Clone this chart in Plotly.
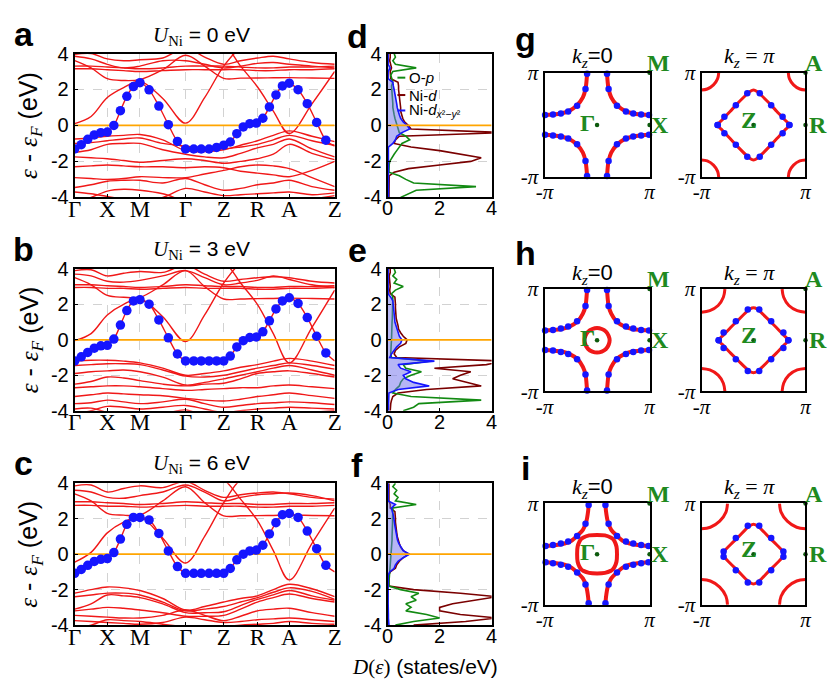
import plotly.graph_objects as go

W, H = 838, 696
SANS = "Arial, Liberation Sans, sans-serif"
SERIF = "Times New Roman, Liberation Serif, serif"

# ---------------- band structure data ----------------
K_PATH = [0, 16.7, 33.3, 50, 66.7, 90, 113.3, 132.8, 152.3, 169.5, 186.7, 203, 219.3, 242.5, 265.7]
K_TICKS = [0, 33.3, 66.7, 113.3, 152.3, 186.7, 219.3, 265.7]
K_LABELS = ['Γ', 'X', 'M', 'Γ', 'Z', 'R', 'A', 'Z']

DOT_K = [0, 6.7, 13.3, 20, 26.7, 33.3, 40, 46.7, 53.3, 60, 66.7, 76, 86, 95.7, 105, 113.3,
         121.7, 129.3, 137.3, 145, 152.3, 159, 165.7, 172.3, 179, 185.7, 192.3, 199, 205.7,
         212.3, 219.3, 228.3, 237.7, 247.3, 256.7]
DOTS_U0 = [-1.31, -1.07, -0.77, -0.53, -0.40, -0.37, 0.0, 0.82, 1.62, 2.16, 2.38, 1.98, 1.08, 0.04,
           -0.89, -1.31, -1.31, -1.31, -1.31, -1.22, -1.10, -0.92, -0.46, -0.08, 0.10, 0.13, 0.40,
           1.03, 1.70, 2.20, 2.35, 1.99, 1.21, 0.17, -0.82]
DOTS_U3 = [-1.19, -0.96, -0.71, -0.47, -0.34, -0.31, 0.04, 0.83, 1.65, 2.19, 2.26, 2.01, 1.12, 0.11,
           -0.80, -1.19, -1.19, -1.19, -1.19, -1.19, -1.19, -0.92, -0.40, -0.05, 0.13, 0.16, 0.45,
           1.07, 1.74, 2.19, 2.37, 2.05, 1.25, 0.20, -0.74]
DOTS_U6 = [-1.08, -0.86, -0.63, -0.41, -0.29, -0.25, 0.09, 0.85, 1.68, 2.07, 2.07, 1.93, 1.17, 0.18,
           -0.70, -1.08, -1.08, -1.08, -1.08, -1.08, -1.08, -0.81, -0.32, 0.0, 0.18, 0.23, 0.50,
           1.14, 1.77, 2.22, 2.29, 2.07, 1.30, 0.31, -0.63]
DX_END = [-1.15, -1.19, -1.0]

BANDS_U0 = [
    [0.1, 0.5, 1.55, 2.1, 2.45, 1.5, 0.13, 1.55, 3.3, 4.3, 4.6, 4.6, 4.6, 4.6, 4.6],
    [3.6, 3.2, 2.6, 2.5, 2.55, 3.1, 3.9, 3.3, 2.62, 2.63, 2.64, 2.65, 2.66, 2.64, 2.62],
    [3.85, 3.7, 3.4, 3.2, 3.3, 3.6, 3.6, 3.4, 3.2, 3.3, 3.45, 3.5, 3.4, 3.3, 3.2],
    [3.3, 3.3, 3.25, 3.2, 3.15, 3.2, 3.3, 3.3, 3.3, 3.25, 3.2, 3.2, 3.25, 3.25, 3.3],
    [3.15, 3.15, 3.1, 3.05, 3.0, 3.05, 3.1, 3.1, 3.1, 3.1, 3.05, 3.05, 3.1, 3.1, 3.15],
    [3.95, 4.0, 3.7, 3.6, 3.65, 3.75, 4.3, 3.8, 3.4, 3.6, 3.75, 3.85, 3.7, 3.5, 3.4],
    [4.6, 4.6, 4.6, 4.6, 4.6, 4.6, 4.6, 4.6, 4.5, 3.3, 2.15, 0.8, -0.45, 1.2, 3.0],
    [-0.75, -0.7, -0.6, -0.55, -0.5, -0.8, -1.4, -1.45, -1.35, -1.1, -0.85, -0.55, -0.3, -0.6, -0.9],
    [-1.0, -0.95, -0.85, -0.75, -0.7, -1.0, -1.15, -1.25, -1.3, -1.2, -1.05, -0.8, -0.55, -0.85, -1.1],
    [-1.5, -1.35, -1.05, -1.0, -1.0, -1.35, -1.6, -1.75, -1.8, -1.55, -1.25, -1.05, -0.75, -1.3, -1.75],
    [-1.75, -1.8, -1.85, -1.95, -2.05, -1.95, -1.85, -1.95, -2.1, -2.0, -1.85, -1.6, -1.05, -1.55, -1.9],
    [-2.3, -2.25, -2.2, -2.25, -2.3, -2.3, -2.35, -2.3, -2.35, -2.55, -2.65, -2.75, -2.85, -2.5, -2.0],
    [-2.9, -2.95, -3.0, -2.95, -2.85, -2.9, -2.9, -2.7, -2.5, -2.3, -2.2, -2.25, -2.4, -2.9, -3.4],
    [-3.45, -3.3, -3.1, -3.05, -3.05, -3.2, -2.95, -3.3, -3.6, -3.5, -3.3, -3.2, -3.05, -3.4, -3.6],
    [-3.7, -3.8, -3.95, -4.1, -4.2, -4.0, -3.5, -3.7, -3.9, -3.85, -3.8, -3.75, -3.7, -3.85, -3.75],
    [-4.2, -4.0, -3.65, -3.55, -3.6, -3.8, -4.2, -4.3, -4.4, -4.3, -4.2, -4.1, -4.3, -4.1, -3.9],
]
BANDS_U3 = [
    [-0.05, 0.35, 1.4, 2.0, 2.3, 1.3, -0.1, 1.4, 3.2, 4.3, 4.6, 4.6, 4.6, 4.6, 4.6],
    [3.5, 3.1, 2.5, 2.4, 2.4, 3.1, 3.9, 3.0, 2.3, 2.3, 2.32, 2.33, 2.35, 2.33, 2.3],
    [3.7, 3.6, 3.3, 3.25, 3.35, 3.6, 3.9, 3.5, 3.1, 3.2, 3.35, 3.6, 3.4, 3.1, 2.95],
    [3.1, 3.1, 3.05, 3.0, 2.95, 3.0, 3.1, 3.05, 3.0, 3.0, 2.95, 2.95, 3.0, 3.0, 3.05],
    [2.95, 2.95, 2.9, 2.9, 2.85, 2.9, 2.95, 2.9, 2.9, 2.9, 2.85, 2.85, 2.9, 2.9, 2.95],
    [3.9, 3.95, 3.6, 3.75, 3.85, 3.8, 4.2, 3.7, 3.3, 3.4, 3.5, 3.55, 3.5, 3.3, 3.2],
    [4.6, 4.6, 4.6, 4.6, 4.6, 4.6, 4.6, 4.6, 4.4, 3.2, 2.0, 0.35, -1.3, 0.7, 2.8],
    [-1.2, -1.15, -1.15, -1.2, -1.3, -1.6, -2.0, -1.9, -1.75, -1.55, -1.4, -1.2, -1.05, -1.2, -1.45],
    [-1.45, -1.4, -1.35, -1.35, -1.4, -1.7, -2.05, -2.1, -2.0, -1.8, -1.6, -1.45, -1.3, -1.45, -1.65],
    [-1.9, -1.8, -1.75, -1.7, -1.8, -2.1, -2.55, -2.4, -2.2, -2.0, -1.8, -1.6, -1.45, -1.7, -2.0],
    [-2.5, -2.35, -2.1, -2.15, -2.3, -2.5, -2.6, -2.5, -2.45, -2.2, -1.9, -1.8, -1.75, -1.9, -2.1],
    [-2.7, -2.65, -2.6, -2.6, -2.65, -2.75, -2.85, -2.8, -2.75, -2.7, -2.7, -2.6, -2.55, -2.65, -2.75],
    [-3.2, -3.1, -3.0, -3.05, -3.1, -3.15, -3.3, -3.4, -3.45, -3.35, -3.2, -3.1, -3.0, -3.15, -3.3],
    [-3.6, -3.55, -3.4, -3.5, -3.6, -3.5, -3.35, -3.6, -3.8, -3.7, -3.6, -3.55, -3.5, -3.55, -3.65],
    [-4.2, -4.0, -3.75, -3.8, -3.9, -3.8, -3.7, -3.9, -4.1, -4.0, -3.9, -3.85, -3.8, -3.85, -3.9],
    [-3.9, -3.85, -4.1, -4.3, -4.4, -4.2, -3.95, -4.3, -4.4, -4.3, -4.2, -4.2, -4.3, -4.1, -4.0],
]
BANDS_U6 = [
    [-0.45, 0.1, 1.2, 1.8, 2.1, 0.9, -0.5, 1.0, 2.9, 4.2, 4.6, 4.6, 4.6, 4.6, 4.6],
    [3.4, 3.0, 2.3, 2.2, 2.2, 3.0, 3.8, 2.9, 2.16, 2.16, 2.17, 2.18, 2.2, 2.18, 2.16],
    [3.6, 3.5, 3.2, 3.15, 3.3, 3.5, 3.9, 3.5, 3.0, 3.2, 3.35, 3.4, 3.45, 3.3, 3.0],
    [2.95, 2.95, 2.9, 2.85, 2.8, 2.85, 2.95, 2.9, 2.85, 2.85, 2.8, 2.8, 2.85, 2.85, 2.9],
    [2.75, 2.75, 2.7, 2.7, 2.65, 2.7, 2.75, 2.7, 2.7, 2.7, 2.65, 2.65, 2.7, 2.7, 2.75],
    [3.85, 3.9, 3.5, 3.7, 3.85, 3.75, 4.1, 3.6, 3.2, 3.35, 3.45, 3.5, 3.4, 3.2, 3.1],
    [4.6, 4.6, 4.6, 4.6, 4.6, 4.6, 4.6, 4.6, 4.2, 3.1, 1.9, 0.2, -1.45, 0.6, 2.6],
    [-2.2, -2.0, -1.85, -1.9, -2.05, -2.5, -3.15, -2.95, -2.7, -2.5, -2.35, -2.0, -1.7, -1.95, -2.4],
    [-2.4, -2.3, -2.2, -2.2, -2.3, -2.7, -3.2, -3.1, -2.95, -2.7, -2.45, -2.15, -1.9, -2.1, -2.55],
    [-3.1, -2.8, -2.3, -2.35, -2.45, -2.8, -3.3, -3.3, -3.25, -2.9, -2.55, -2.3, -2.05, -2.35, -2.6],
    [-3.2, -3.1, -3.0, -3.05, -3.15, -3.3, -3.5, -3.5, -3.45, -3.1, -2.7, -2.45, -2.25, -2.5, -2.7],
    [-3.45, -3.5, -3.55, -3.6, -3.6, -3.45, -3.15, -3.45, -3.75, -3.5, -3.2, -3.1, -3.05, -3.3, -3.5],
    [-3.75, -3.8, -3.85, -3.9, -3.95, -3.85, -3.55, -3.7, -3.85, -3.8, -3.7, -3.65, -3.6, -3.7, -3.8],
    [-4.2, -4.0, -3.7, -3.75, -3.8, -3.95, -4.1, -4.2, -4.1, -4.0, -3.95, -3.9, -3.8, -3.9, -3.95],
]

# ---------------- DOS data (E from -4 to 4, step 0.2) ----------------
E_DOS = [-4.0, -3.8, -3.6, -3.4, -3.2, -3.0, -2.8, -2.6, -2.4, -2.2, -2.0, -1.8, -1.6, -1.4, -1.2,
         -1.0, -0.8, -0.6, -0.4, -0.2, 0.0, 0.2, 0.4, 0.6, 0.8, 1.0, 1.2, 1.4, 1.6, 1.8, 2.0, 2.2,
         2.4, 2.6, 2.8, 3.0, 3.2, 3.4, 3.6, 3.8, 4.0]
OP_U0 = [0.5, 0.8, 1.1, 3.4, 1.0, 0.7, 0.45, 0.05, 0.05, 0.06, 0.08, 0.15, 0.25, 0.35, 0.45, 0.55,
         0.85, 0.7, 0.45, 0.4, 0.38, 0.3, 0.28, 0.25, 0.22, 0.2, 0.2, 0.18, 0.18, 0.17, 0.16, 0.15,
         0.2, 0.15, 0.12, 0.2, 1.1, 0.3, 0.2, 0.3, 0.25]
NID_U0 = [0.05, 0.05, 0.05, 0.05, 0.05, 0.05, 0.06, 0.25, 0.8, 2.0, 3.2, 3.6, 2.8, 2.0, 0.9, 0.25,
          0.3, 0.45, 4.5, 0.9, 0.8, 0.65, 0.58, 0.55, 0.5, 0.5, 0.48, 0.46, 0.45, 0.44, 0.42, 0.42,
          0.4, 0.12, 0.1, 0.1, 0.15, 0.1, 0.08, 0.1, 0.1]
DX_U0 = [0.03, 0.03, 0.03, 0.03, 0.03, 0.03, 0.03, 0.03, 0.03, 0.03, 0.03, 0.03, 0.03, 0.03, 0.03,
         0.2, 0.3, 0.35, 0.55, 0.85, 0.75, 0.6, 0.5, 0.45, 0.4, 0.37, 0.35, 0.33, 0.3, 0.28, 0.25,
         0.22, 0.2, 0.02, 0.02, 0.02, 0.1, 0.02, 0.02, 0.02, 0.02]
OP_U3 = [0.6, 1.0, 1.2, 3.6, 0.9, 0.2, 0.3, 0.45, 0.5, 0.6, 0.9, 1.3, 0.7, 0.6, 1.6, 0.15, 0.12,
         0.12, 0.13, 0.14, 0.15, 0.15, 0.16, 0.16, 0.17, 0.17, 0.18, 0.18, 0.18, 0.19, 0.19, 0.2,
         0.2, 0.15, 0.3, 0.6, 0.25, 0.35, 0.2, 0.3, 0.25]
NID_U3 = [0.1, 0.1, 0.12, 0.15, 0.2, 0.4, 1.5, 3.6, 3.0, 2.5, 2.8, 3.2, 1.8, 3.8, 4.5, 0.35, 0.25,
          0.3, 0.45, 0.7, 0.75, 0.6, 0.5, 0.42, 0.4, 0.35, 0.33, 0.32, 0.3, 0.3, 0.3, 0.3, 0.28,
          0.1, 0.08, 0.1, 0.08, 0.06, 0.06, 0.1, 0.1]
DX_U3 = [0.03, 0.03, 0.03, 0.03, 0.03, 0.05, 0.4, 1.6, 1.0, 0.7, 0.6, 0.9, 0.5, 0.4, 1.8, 0.08,
         0.15, 0.25, 0.35, 0.5, 0.55, 0.45, 0.4, 0.35, 0.3, 0.28, 0.27, 0.26, 0.25, 0.24, 0.22,
         0.2, 0.12, 0.02, 0.02, 0.02, 0.02, 0.02, 0.02, 0.02, 0.02]
OP_U6 = [0.3, 1.0, 2.0, 1.5, 0.7, 0.9, 0.7, 1.1, 0.9, 1.2, 0.5, 0.05, 0.05, 0.06, 0.07, 0.08, 0.1,
         0.11, 0.12, 0.13, 0.15, 0.15, 0.16, 0.16, 0.17, 0.17, 0.18, 0.18, 0.18, 0.19, 0.19, 0.2,
         0.2, 0.2, 1.1, 0.3, 0.4, 0.25, 0.35, 0.2, 0.3]
NID_U6 = [1.0, 3.0, 4.2, 2.8, 2.0, 2.0, 2.5, 3.5, 4.2, 2.8, 1.0, 0.05, 0.04, 0.04, 0.04, 0.1, 0.3,
          0.35, 0.45, 0.6, 0.8, 0.6, 0.5, 0.45, 0.4, 0.37, 0.35, 0.33, 0.32, 0.3, 0.3, 0.3, 0.28,
          0.1, 0.1, 0.05, 0.05, 0.05, 0.05, 0.05, 0.05]
DX_U6 = [0.05, 0.03, 0.03, 0.03, 0.02, 0.02, 0.02, 0.02, 0.02, 0.02, 0.02, 0.02, 0.02, 0.02, 0.02,
         0.08, 0.25, 0.3, 0.4, 0.6, 0.85, 0.6, 0.5, 0.43, 0.38, 0.35, 0.32, 0.3, 0.28, 0.26, 0.25,
         0.22, 0.18, 0.15, 0.3, 0.02, 0.02, 0.02, 0.02, 0.02, 0.02]

# ---------------- Fermi surface data (units of pi) ----------------
FS0_SHEET = [
    [(-0.19, 1.0), (-0.2, 0.85), (-0.22, 0.69), (-0.27, 0.53), (-0.38, 0.38), (-0.53, 0.27), (-0.69, 0.22), (-0.85, 0.2), (-1.0, 0.19)],
    [(-0.19, 1.0), (-0.2, 0.85), (-0.22, 0.67), (-0.27, 0.52), (-0.37, 0.37), (-0.52, 0.27), (-0.67, 0.22), (-0.85, 0.2), (-1.0, 0.19)],
    [(-0.16, 1.0), (-0.17, 0.85), (-0.21, 0.62), (-0.27, 0.48), (-0.37, 0.37), (-0.48, 0.27), (-0.62, 0.21), (-0.85, 0.17), (-1.0, 0.16)],
]
FS0_DOTS = [
    [(-0.19, 0.98), (-0.22, 0.69), (-0.38, 0.37), (-0.55, 0.26), (-0.69, 0.22), (-0.84, 0.2), (-0.99, 0.19)],
    [(-0.19, 0.98), (-0.22, 0.67), (-0.38, 0.37), (-0.55, 0.27), (-0.69, 0.23), (-0.84, 0.2), (-0.99, 0.19)],
    [(-0.16, 0.97), (-0.22, 0.6), (-0.38, 0.36), (-0.55, 0.25), (-0.69, 0.21), (-0.84, 0.18), (-0.98, 0.16)],
]
GAMMA_POCKET = [
    None,
    [(0.24, 0.0), (0.22, 0.09), (0.17, 0.17), (0.09, 0.22), (0.0, 0.24)],
    [(0.38, 0.0), (0.37, 0.15), (0.33, 0.26), (0.3, 0.3), (0.26, 0.33), (0.15, 0.37), (0.0, 0.38)],
]
FSPI_DIAMOND = [
    [(0.69, 0.0), (0.6, 0.1), (0.45, 0.26), (0.3, 0.42), (0.15, 0.57), (0.07, 0.64), (0.0, 0.67)],
    [(0.67, 0.0), (0.58, 0.1), (0.44, 0.25), (0.3, 0.39), (0.15, 0.54), (0.07, 0.61), (0.0, 0.635)],
    [(0.59, 0.0), (0.56, 0.06), (0.44, 0.19), (0.3, 0.33), (0.15, 0.49), (0.07, 0.56), (0.0, 0.59)],
]
FSPI_DOTS = [
    [(0.69, 0.0), (0.56, 0.16), (0.34, 0.38), (0.12, 0.61)],
    [(0.67, 0.0), (0.575, 0.15), (0.34, 0.37), (0.11, 0.6)],
    [(0.575, 0.05), (0.34, 0.32), (0.11, 0.56)],
]
CORNER_ARC = [
    [(0.33, 0.0), (0.31, 0.11), (0.23, 0.23), (0.11, 0.31), (0.0, 0.33)],
    [(0.45, 0.0), (0.42, 0.16), (0.32, 0.32), (0.16, 0.42), (0.0, 0.45)],
    [(0.5, 0.0), (0.47, 0.17), (0.35, 0.35), (0.17, 0.47), (0.0, 0.5)],
]

U_VALUES = ['0', '3', '6']
ROW_LETTERS = [('a', 'd', 'g'), ('b', 'e', 'h'), ('c', 'f', 'i')]

# ---------------- layout geometry (pixels) ----------------
BAND_X = (67, 332)
DOS_X = (386, 492)
FS0_X = (546, 653)
FSPI_X = (706, 812)
BAND_Y = [(43, 192), (266, 413), (488, 635)]
FS_Y = [(63, 171), (287, 393), (509, 614)]

RED = '#f01818'
BLUE = '#1515ff'
GREEN = '#128a12'
DRED = '#7a0000'
ORANGE = '#ffa500'
LBL_GREEN = '#1f8a1f'
SPAN_SERIF = '<span style="font-family:Times New Roman, Liberation Serif, serif">'


def sfx(i):
    return '' if i == 1 else str(i)


def px_x(p):
    return p / W


def px_y(p):
    return 1 - p / H


fig = go.Figure()


def add(tr, i):
    tr.update(xaxis='x' + sfx(i), yaxis='y' + sfx(i), showlegend=False, hoverinfo='skip')
    fig.add_trace(tr)


def quad_closed(q):
    pts = list(q)
    pts += [(-x, y) for (x, y) in reversed(q)][1:]
    pts += [(-x, -y) for (x, y) in q][1:]
    pts += [(x, -y) for (x, y) in reversed(q)][1:]
    return [p[0] for p in pts], [p[1] for p in pts]


layout = dict(width=W, height=H, margin=dict(l=0, r=0, t=0, b=0),
              paper_bgcolor='white', plot_bgcolor='white', showlegend=False)
frame = dict(showline=True, mirror=True, linecolor='black', linewidth=2, zeroline=False)
grid = dict(showgrid=True, gridcolor='#d2d2d2', griddash='dash', gridwidth=1)
ytick = dict(tickmode='array', tickvals=[-4, -2, 0, 2, 4], ticktext=['-4', '-2', '0', '2', '4'],
             tickfont=dict(family=SANS, size=20, color='black'), ticks='inside', ticklen=3,
             tickcolor='black', range=[-4, 4])

annotations = []
shapes = []


def ann(text, x, y, size, family=SANS, color='black', **kw):
    d = dict(text=text, x=px_x(x), y=px_y(y), xref='paper', yref='paper', showarrow=False,
             font=dict(family=family, size=size, color=color), xanchor='center', yanchor='middle')
    d.update(kw)
    annotations.append(d)


band_sets = [BANDS_U0, BANDS_U3, BANDS_U6]
dot_sets = [DOTS_U0, DOTS_U3, DOTS_U6]
dos_sets = [(OP_U0, NID_U0, DX_U0), (OP_U3, NID_U3, DX_U3), (OP_U6, NID_U6, DX_U6)]

for r in range(3):
    ib, idos, i0, ipi = 4 * r + 1, 4 * r + 2, 4 * r + 3, 4 * r + 4
    yb = BAND_Y[r]
    yf = FS_Y[r]
    ydom = [px_y(yb[1]), px_y(yb[0])]
    # ---- band panel ----
    layout['xaxis' + sfx(ib)] = dict(domain=[px_x(BAND_X[0]), px_x(BAND_X[1])], anchor='y' + sfx(ib),
                                     range=[0, K_PATH[-1]], tickmode='array', tickvals=K_TICKS,
                                     ticktext=K_LABELS, tickfont=dict(family=SERIF, size=23, color='black'),
                                     ticks='inside', ticklen=3, tickcolor='black', ticklabelstandoff=-10,
                                     **frame, **grid)
    layout['yaxis' + sfx(ib)] = dict(domain=ydom, anchor='x' + sfx(ib), **ytick, **frame, **grid)
    for b in band_sets[r]:
        add(go.Scatter(x=K_PATH, y=b, mode='lines', line=dict(color=RED, width=1.4, shape='spline')), ib)
    add(go.Scatter(x=DOT_K + [K_PATH[-1]], y=dot_sets[r] + [DX_END[r]], mode='lines',
                   line=dict(color=RED, width=1.4, shape='spline')), ib)
    add(go.Scatter(x=[0, K_PATH[-1]], y=[0, 0], mode='lines', line=dict(color=ORANGE, width=1.8)), ib)
    add(go.Scatter(x=DOT_K, y=dot_sets[r], mode='markers',
                   marker=dict(color=BLUE, size=9.5, line=dict(width=0))), ib)

    # ---- DOS panel ----
    layout['xaxis' + sfx(idos)] = dict(domain=[px_x(DOS_X[0]), px_x(DOS_X[1])], anchor='y' + sfx(idos),
                                       range=[0, 4], tickmode='array', tickvals=[0, 2, 4],
                                       ticktext=['0', '2', '4'],
                                       tickfont=dict(family=SANS, size=20, color='black'),
                                       ticks='inside', ticklen=3, tickcolor='black', ticklabelstandoff=-8,
                                       **frame, **grid)
    layout['yaxis' + sfx(idos)] = dict(domain=ydom, anchor='x' + sfx(idos), **ytick, **frame, **grid)
    op, nid, dx = dos_sets[r]
    add(go.Scatter(x=nid, y=E_DOS, mode='lines', line=dict(color=DRED, width=1.6)), idos)
    add(go.Scatter(x=op, y=E_DOS, mode='lines', line=dict(color=GREEN, width=1.6)), idos)
    add(go.Scatter(x=dx, y=E_DOS, mode='lines', fill='tozerox', fillcolor='rgba(110,110,235,0.5)',
                   line=dict(color=BLUE, width=1.6)), idos)
    add(go.Scatter(x=[0, 4], y=[0, 0], mode='lines', line=dict(color=ORANGE, width=1.8)), idos)

    # ---- Fermi surfaces ----
    fsax = dict(range=[-1, 1], tickmode='array', tickvals=[-1, 1], ticktext=['-<i>π</i>', '<i>π</i>'],
                tickfont=dict(family=SERIF, size=21, color='black'), showgrid=False, ticks='', **frame)
    for ii, xs in ((i0, FS0_X), (ipi, FSPI_X)):
        layout['xaxis' + sfx(ii)] = dict(domain=[px_x(xs[0]), px_x(xs[1])], anchor='y' + sfx(ii),
                                         ticklabelstandoff=-5, **fsax)
        layout['yaxis' + sfx(ii)] = dict(domain=[px_y(yf[1]), px_y(yf[0])], anchor='x' + sfx(ii), **fsax)

    for sx in (1, -1):
        for sy in (1, -1):
            add(go.Scatter(x=[sx * p[0] for p in FS0_SHEET[r]], y=[sy * p[1] for p in FS0_SHEET[r]],
                           mode='lines', line=dict(color=RED, width=4, shape='spline')), i0)
    if GAMMA_POCKET[r] is not None:
        gx, gy = quad_closed(GAMMA_POCKET[r])
        add(go.Scatter(x=gx, y=gy, mode='lines', line=dict(color=RED, width=4, shape='spline')), i0)
    dx0, dy0 = [], []
    for sx in (1, -1):
        for sy in (1, -1):
            dx0 += [sx * p[0] for p in FS0_DOTS[r]]
            dy0 += [sy * p[1] for p in FS0_DOTS[r]]
    add(go.Scatter(x=dx0, y=dy0, mode='markers', cliponaxis=False,
                   marker=dict(color=BLUE, size=6.5, line=dict(width=0))), i0)
    add(go.Scatter(x=[0, 1, 1], y=[0, 1, 0], mode='markers', cliponaxis=False,
                   marker=dict(color='#0d5a0d', size=4.5)), i0)

    for sx in (1, -1):
        for sy in (1, -1):
            add(go.Scatter(x=[sx * (1 - p[0]) for p in CORNER_ARC[r]], y=[sy * (1 - p[1]) for p in CORNER_ARC[r]],
                           mode='lines', line=dict(color=RED, width=3, shape='spline')), ipi)
    zx, zy = quad_closed(FSPI_DIAMOND[r])
    add(go.Scatter(x=zx, y=zy, mode='lines', line=dict(color=RED, width=3, shape='spline')), ipi)
    dpx, dpy = [], []
    for sx in (1, -1):
        for sy in (1, -1):
            dpx += [sx * p[0] for p in FSPI_DOTS[r]]
            dpy += [sy * p[1] for p in FSPI_DOTS[r]]
    add(go.Scatter(x=dpx, y=dpy, mode='markers', cliponaxis=False,
                   marker=dict(color=BLUE, size=6.5, line=dict(width=0))), ipi)
    add(go.Scatter(x=[0, 1, 1], y=[0, 1, 0], mode='markers', cliponaxis=False,
                   marker=dict(color='#0d5a0d', size=4.5)), ipi)

    # ---- texts ----
    off = [0, 222, 444][r]
    L1, L2, L3 = ROW_LETTERS[r]
    ann('<b>%s</b>' % L1, 15, 23 + off, 34)
    ann('<b>%s</b>' % L2, 355, 25 + off, 34)
    ann('<b>%s</b>' % L3, 527, 28 + off, 34)
    ann(SPAN_SERIF + '<i>U</i><sub>Ni</sub></span> = %s eV' % U_VALUES[r], 196, 25 + [0, 221, 443][r], 21)
    ann(SPAN_SERIF + '<i>ε</i></span> - ' + SPAN_SERIF + '<i>ε<sub>F</sub></i></span> (eV)',
        22, (yb[0] + yb[1]) / 2, 25, textangle=-90)
    kt = yf[0] - 16
    ann(SPAN_SERIF + '<i>k<sub>z</sub></i></span>=0', 595, kt, 22)
    ann(SPAN_SERIF + '<i>k<sub>z</sub></i> = <i>π</i></span>', 755, kt, 22)
    ym = (yf[0] + yf[1]) / 2
    ann('<b>M</b>', 662, yf[0] - 10, 24, SERIF, LBL_GREEN)
    ann('<b>X</b>', 664, ym, 24, SERIF, LBL_GREEN)
    ann('<b>Γ</b>', 590, ym - 2, 24, SERIF, LBL_GREEN)
    ann('<b>A</b>', 821, yf[0] - 10, 24, SERIF, LBL_GREEN)
    ann('<b>R</b>', 825, ym, 24, SERIF, LBL_GREEN)
    ann('<b>Z</b>', 754, ym - 5, 24, SERIF, LBL_GREEN)

# legend in panel d
LEG = [('O-<i>p</i>', GREEN, 68), ('Ni-<i>d</i>', DRED, 86),
       ('Ni-<i>d</i><sub><i>x</i>²−<i>y</i>²</sub>', BLUE, 102)]
for txt, col, yy in LEG:
    shapes.append(dict(type='line', xref='paper', yref='paper', x0=px_x(396), x1=px_x(404),
                       y0=px_y(yy), y1=px_y(yy), line=dict(color=col, width=2)))
    annotations.append(dict(text=txt, x=px_x(406), y=px_y(yy), xref='paper', yref='paper',
                            showarrow=False, xanchor='left', yanchor='middle',
                            font=dict(family=SANS, size=15, color='black')))

annotations.append(dict(text=SPAN_SERIF + '<i>D</i>(<i>ε</i>)</span> (states/eV)',
                        x=px_x(424), y=px_y(678), xref='paper', yref='paper', showarrow=False,
                        xanchor='center', yanchor='middle', font=dict(family=SANS, size=21, color='black')))

layout['annotations'] = annotations
layout['shapes'] = shapes
fig.update_layout(**layout)
fig.write_html("out.html")
